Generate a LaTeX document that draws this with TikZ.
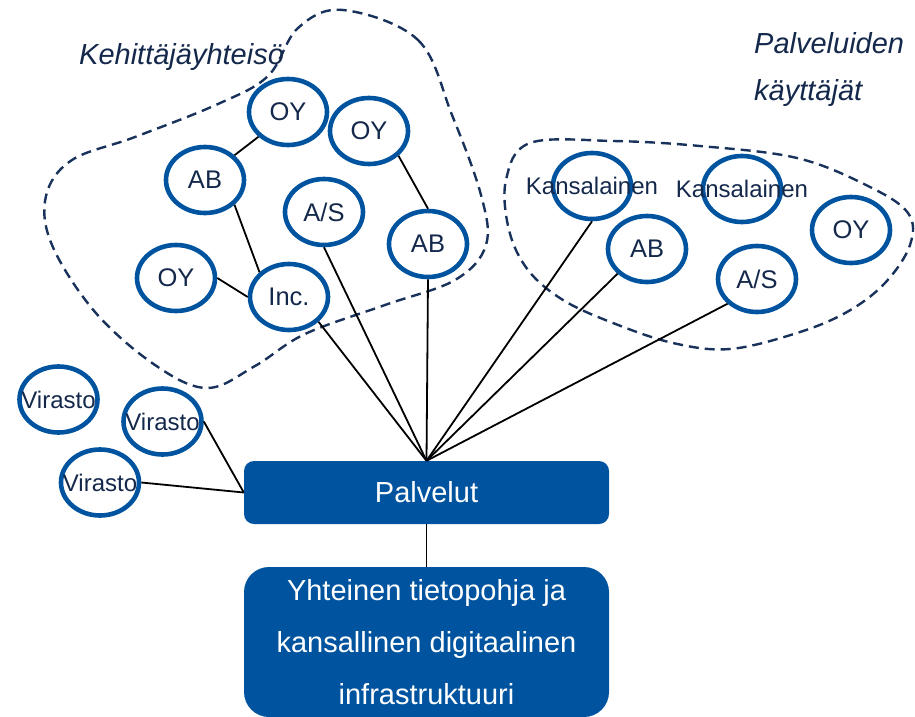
\documentclass[tikz,border=0pt]{standalone}
\usepackage{fontspec}
\setmainfont{Liberation Sans}
\usetikzlibrary{shapes.geometric}

\definecolor{orgblue}{RGB}{0,84,159}
\definecolor{navytext}{RGB}{20,40,75}
\definecolor{dashnavy}{RGB}{25,50,92}

\begin{document}
\begin{tikzpicture}[x=1pt,y=-1pt,
  org/.style={ellipse, draw=orgblue, line width=4.6pt,
    minimum width=78pt, minimum height=66pt, inner sep=0pt},
  orgtext/.style={font=\fontsize{25.5}{30}\selectfont, text=navytext, inner sep=0pt},
  smalltext/.style={font=\fontsize{24}{29}\selectfont, text=navytext, inner sep=0pt},
  link/.style={draw=black, line width=1.8pt},
  group/.style={draw=dashnavy, line width=2.4pt, dash pattern=on 10pt off 6pt},
  grouptitle/.style={font=\fontsize{29}{35}\selectfont\itshape, text=navytext,
    inner sep=0pt, anchor=base west},
  panel/.style={fill=orgblue, draw=none, text=white, inner sep=0pt,
    minimum width=365pt},
]
\useasboundingbox (0,0) rectangle (915,717);

% developer community and service users (dashed outlines)
\draw[group] plot[smooth cycle, tension=0.6] coordinates {
  (343,10) (418,40) (452,115) (481,195) (486,245) (455,280) (385,305)
  (305,334) (255,366) (207,388) (155,365) (95,312) (52,245) (46,196)
  (72,160) (135,137) (218,104) (268,76) (298,28)};
\draw[group] plot[smooth cycle, tension=0.6] coordinates {
  (530,143) (613,141) (700,146) (797,158) (868,186) (908,213) (910,245)
  (885,283) (847,312) (797,333) (730,349) (673,343) (613,323) (563,300)
  (528,270) (509,230) (506,180)};

\node[grouptitle] (devtitle) at (79,65) {Kehittäjäyhteisö};
\node[grouptitle] (usertitleA) at (754,54) {Palveluiden};
\node[grouptitle] (usertitleB) at (754,100) {käyttäjät};

% developer organisations
\node[org, label={[orgtext]center:OY}] (oyA) at (288,112) {};
\node[org, label={[orgtext]center:OY}] (oyB) at (369,131) {};
\node[org, label={[orgtext]center:AB}] (abA) at (205,180) {};
\node[org, label={[orgtext]center:A/S}] (asA) at (324,212) {};
\node[org, label={[orgtext]center:AB}] (abB) at (428,244) {};
\node[org, label={[orgtext]center:OY}] (oyC) at (176,278) {};
\node[org, label={[orgtext]center:Inc.}] (inc) at (289,297) {};

% service users
\node[org, label={[smalltext]center:Kansalainen}] (kansA) at (592,186) {};
\node[org, label={[orgtext]center:AB}] (abC) at (647,249) {};
\node[org, label={[smalltext]center:Kansalainen}] (kansB) at (742,189) {};
\node[org, label={[orgtext]center:OY}] (oyD) at (851,230) {};
\node[org, label={[orgtext]center:A/S}] (asB) at (757,279) {};

% agencies
\node[org, label={[smalltext]center:Virasto}] (virA) at (58.5,399.5) {};
\node[org, label={[smalltext]center:Virasto}] (virB) at (162.5,421.5) {};
\node[org, label={[smalltext]center:Virasto}] (virC) at (100,482.5) {};

% services and infrastructure
\node[panel, minimum height=63pt, rounded corners=10pt,
  font=\fontsize{29}{35}\selectfont] (pal) at (426.5,492.5) {Palvelut};
\node[panel, minimum height=150pt, rounded corners=25pt, align=center,
  font=\fontsize{29}{52}\selectfont] (infra) at (426.5,642)
  {Yhteinen tietopohja ja\\kansallinen digitaalinen\\infrastruktuuri};

% connectors
\draw[link] (abA.40) -- (oyA.220);
\draw[link] (abA.320) -- (inc.140);
\draw[link] (oyC.east) -- (inc.west);
\draw[link] (oyB.320) -- (abB.north);
\draw[link] (inc.320) -- (pal.north);
\draw[link] (asA.south) -- (pal.north);
\draw[link] (abB.south) -- (pal.north);
\draw[link] (kansA.south) -- (pal.north);
\draw[link] (abC.220) -- (pal.north);
\draw[link] (asB.220) -- (pal.north);
\draw[link] (virB.east) -- (pal.west);
\draw[link] (virC.east) -- (pal.west);
\draw[link] (pal.south) -- (infra.north);
\end{tikzpicture}
\end{document}
